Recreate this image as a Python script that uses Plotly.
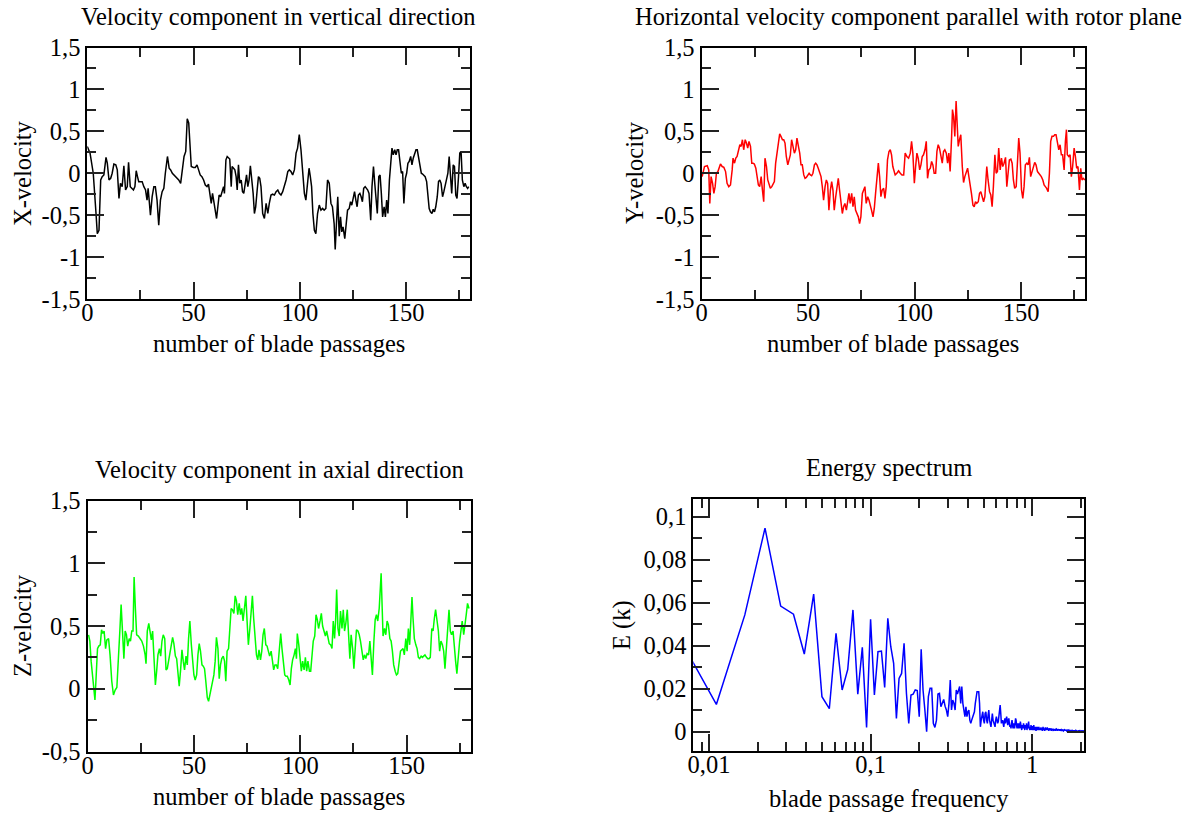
import plotly.graph_objects as go

# ---------------- data ----------------
vx_pass = [0, 1.3, 2.8, 3.6, 4.1, 4.7, 5.5, 6.3, 7.0, 7.8,
           8.8, 9.4, 10.2, 11.0, 11.7, 12.5, 13.4, 14.1, 14.9, 15.6,
           16.4, 17.2, 18.0, 18.8, 19.4, 20.2, 21.0, 21.7, 22.4, 23.0,
           23.6, 24.2, 25.0, 25.8, 26.6, 27.4, 28.1, 28.6, 29.1, 29.7,
           30.5, 31.3, 32.0, 32.8, 33.6, 34.4, 35.2, 36.0, 36.7, 37.7,
           38.5, 39.2, 40.0, 40.8, 41.9, 43.0, 43.9, 44.7, 45.5, 46.3,
           47.0, 47.7, 48.3, 48.9, 49.9, 50.8, 51.6, 52.4, 53.1, 53.9,
           54.7, 55.5, 56.3, 57.0, 57.7, 58.3, 58.9, 59.5, 60.2, 60.8,
           61.4, 62.0, 62.7, 63.3, 64.1, 64.5, 65.2, 65.8, 66.4, 67.0,
           67.7, 68.1, 68.8, 69.4, 70.0, 70.5, 71.1, 71.7, 72.4, 73.0,
           73.6, 74.2, 74.9, 75.5, 76.1, 76.7, 77.4, 78.0, 78.6, 79.2,
           79.9, 80.5, 81.1, 81.7, 82.5, 83.3, 84.1, 84.9, 85.6, 86.4,
           87.2, 88.0, 88.8, 89.6, 90.3,
           91.1, 91.9, 92.7, 93.5, 94.3, 95.0, 95.8, 96.6, 97.4, 98.2,
           98.9, 99.7, 100.5, 101.3, 102.1, 102.8, 103.6, 104.3, 104.9, 105.5,
           106.1, 106.8, 107.5, 108.3, 109.1, 109.9, 110.7, 111.4, 112.2, 113.0,
           113.8, 114.6, 115.3, 116.1, 116.6, 117.2, 117.8, 118.5, 119.1, 119.7,
           120.3, 121.1, 121.8, 122.4, 123.2, 123.8, 124.4, 125.0, 125.7, 126.3,
           126.9, 127.5, 128.2, 128.8, 129.4, 130.0, 130.7, 131.3, 131.9, 132.5,
           133.3, 133.9, 134.6, 135.2, 135.8, 136.4, 137.1, 137.7, 138.3, 138.9,
           139.6, 140.2, 140.8, 141.4, 142.1, 142.7, 143.3, 143.9, 144.6, 145.2,
           145.8, 146.4, 147.1, 147.7, 148.3, 148.9, 149.6, 150.2, 150.8, 151.4,
           152.1, 152.7, 153.3, 153.9, 154.6, 155.2, 155.8, 156.4, 157.1, 157.7,
           158.3, 158.9, 159.6, 160.2, 160.8, 161.4, 162.1, 162.7, 163.3, 163.9,
           164.6, 165.2, 165.8, 166.4, 167.1, 167.7, 168.3, 168.9, 169.6, 170.2,
           170.8, 171.4, 172.1, 172.7, 173.3, 173.9, 174.6, 175.2, 175.8, 176.4,
           177.1, 177.7, 178.3, 178.9, 179.4]
vx_vel = [0.32, 0.24, 0.00, -0.24, -0.48, -0.72, -0.68, -0.08, -0.04, -0.02,
          0.19, 0.12, -0.08, -0.06, 0.00, 0.11, 0.10, 0.04, -0.30, -0.12,
          -0.16, 0.09, -0.20, -0.16, 0.13, -0.16, -0.18, -0.20, -0.16, 0.03,
          -0.04, -0.10, -0.10, -0.10, -0.16, -0.20, -0.32, -0.18, -0.32, -0.50,
          -0.28, -0.16, -0.16, -0.32, -0.62, -0.32, -0.22, -0.18, 0.00, 0.20,
          0.06, 0.04, 0.00, -0.02, -0.05, -0.08, -0.12, 0.04, 0.20, 0.26,
          0.65, 0.60, 0.28, 0.08, 0.07, 0.07, 0.10, 0.02, -0.02, -0.04,
          -0.08, -0.14, -0.16, -0.13, -0.24, -0.36, -0.24, -0.32, -0.44, -0.54,
          -0.40, -0.26, -0.28, -0.22, -0.16, -0.24, 0.16, 0.20, 0.19, 0.17,
          -0.16, 0.08, 0.06, 0.04, -0.04, -0.20, 0.10, -0.12, -0.08, -0.22,
          -0.24, -0.12, -0.02, -0.16, -0.08, 0.09, -0.08, -0.24, -0.48, -0.40,
          -0.20, -0.04, -0.06, -0.16, -0.48, -0.54, -0.36, -0.48, -0.36, -0.26,
          -0.25, -0.26, -0.22, -0.20, -0.24,
          -0.26, -0.22, -0.16, -0.08, 0.02, 0.04, 0.02, -0.02, 0.04, 0.24,
          0.30, 0.46, 0.28, 0.00, -0.24, -0.32, -0.08, 0.06, -0.04, -0.16,
          -0.48, -0.68, -0.72, -0.48, -0.38, -0.44, -0.42, -0.44, -0.42, -0.08,
          -0.12, -0.36, -0.40, -0.60, -0.91, -0.56, -0.28, -0.75, -0.52, -0.70,
          -0.64, -0.78, -0.56, -0.44, -0.42, -0.34, -0.38, -0.30, -0.22, -0.32,
          -0.40, -0.26, -0.24, -0.28, -0.34, -0.18, -0.16, -0.18, -0.20, -0.24,
          -0.56, -0.16, 0.08, -0.12, -0.36, -0.48, -0.04, -0.02, -0.24, -0.52,
          -0.40, -0.52, -0.32, -0.48, -0.08, 0.16, 0.30, 0.22, 0.28, 0.22,
          0.28, 0.28, 0.12, 0.00, 0.02, -0.36, -0.06, 0.00, 0.12, 0.14,
          0.20, 0.10, 0.18, 0.24, 0.28, 0.28, 0.20, 0.08, 0.00, -0.01,
          -0.02, -0.04, -0.10, -0.28, -0.42, -0.46, -0.48, -0.43, -0.46, -0.40,
          -0.28, -0.10, -0.08, -0.12, -0.28, -0.22, -0.16, -0.08, 0.00, 0.20,
          -0.08, -0.24, 0.10, 0.08, -0.26, -0.30, -0.04, 0.24, 0.26, -0.08,
          -0.16, -0.12, -0.16, -0.18, -0.16]

vy_pass = [0.3, 1.4, 2.7, 3.4, 3.9, 4.5, 5.2, 5.8, 6.4, 7.0,
           7.7, 8.3, 8.9, 9.7, 10.5, 11.3, 12.0, 12.8, 13.6, 14.4,
           14.8, 15.5, 16.1, 16.7, 17.3, 18.0, 18.6, 19.2, 19.8, 20.5,
           21.1, 21.7, 22.3, 23.0, 23.6, 24.2, 24.8, 25.5, 26.1, 26.7,
           27.3, 28.0, 28.6, 29.2, 29.8, 30.5, 31.1, 31.7, 32.3, 33.0,
           33.6, 34.2, 34.8, 35.5, 36.1, 36.7, 37.3, 38.0, 38.6, 39.2,
           39.8, 40.5, 41.1, 41.7, 42.3, 43.0, 43.6, 44.2, 44.8, 45.5,
           46.1, 46.7, 47.3, 48.0, 48.6, 49.2, 49.8, 50.5, 51.1, 51.7,
           52.3, 53.0, 53.6, 54.2, 54.8, 55.5, 56.1, 56.7, 57.3, 58.0,
           58.6, 59.2, 59.8, 60.5, 61.1, 61.7, 62.3, 63.0, 63.6, 64.2,
           64.8, 65.5, 66.1, 66.7, 67.3, 68.0, 68.6, 69.2, 69.8, 70.5,
           71.1, 71.7, 72.3, 73.0, 73.6, 74.2, 74.8, 75.5, 76.1, 76.7,
           77.3, 78.0, 78.6, 79.2, 79.8, 80.5, 81.1, 81.7, 82.3, 83.0,
           83.6, 84.2, 84.8, 85.5, 86.1, 86.7, 87.3, 88.0, 88.6, 89.2,
           89.8,
           90.2, 90.9, 91.7, 92.5, 93.3, 94.1, 94.9, 95.6, 96.4, 97.2,
           98.0, 98.6, 99.2, 99.9, 100.5, 101.1, 101.7, 102.4, 103.0, 103.6,
           104.2, 104.9, 105.5, 106.1, 106.7, 107.4, 108.0, 108.6, 109.2, 109.9,
           110.5, 111.1, 111.7, 112.4, 113.0, 113.6, 114.2, 114.9, 115.5, 116.1,
           116.7, 117.4, 117.8, 118.3, 118.9, 119.5, 120.0, 120.5, 121.1, 121.7,
           122.4, 123.0, 123.6, 124.2, 124.9, 125.5, 126.1, 126.7, 127.4, 128.0,
           128.6, 129.2, 129.9, 130.5, 131.1, 131.7, 132.4, 133.0, 133.6, 133.9,
           134.5, 135.2, 135.8, 136.4, 137.0, 137.7, 138.3, 138.9, 139.5, 140.2,
           140.8, 141.4, 142.0, 142.7, 143.3, 143.9, 144.5, 145.2, 145.8, 146.4,
           147.0, 147.7, 148.3, 148.9, 149.5, 150.2, 150.8, 151.4, 152.0, 152.7,
           153.3, 153.9, 154.5, 155.2, 155.8, 156.4, 157.0, 157.7, 158.3, 158.9,
           159.5, 160.2, 160.8, 161.4, 162.0, 162.7, 163.3, 163.9, 164.5, 165.2,
           165.8, 166.4, 167.0, 167.7, 168.3, 168.9, 169.5, 170.2, 170.8, 171.3,
           171.7, 172.4, 173.0, 173.6, 174.2, 174.9, 175.5, 176.1, 176.7, 177.4,
           178.0, 178.6, 179.2, 180.0]
vy_vel = [-0.04, 0.08, 0.09, 0.04, -0.36, -0.04, -0.12, -0.24, -0.16, 0.00,
          0.02, 0.08, 0.11, 0.08, 0.07, 0.02, -0.12, -0.16, -0.14, 0.04,
          0.18, 0.12, 0.18, 0.20, 0.28, 0.34, 0.32, 0.40, 0.28, 0.40,
          0.36, 0.30, 0.38, 0.32, 0.12, 0.12, 0.11, 0.06, -0.04, -0.14,
          -0.16, -0.04, -0.20, -0.34, 0.18, 0.08, -0.08, -0.12, -0.18, -0.16,
          -0.12, -0.10, 0.12, 0.24, 0.36, 0.47, 0.44, 0.40, 0.40, 0.36,
          0.20, 0.10, 0.16, 0.22, 0.40, 0.32, 0.24, 0.28, 0.42, 0.32,
          0.24, 0.10, 0.10, -0.02, -0.06, -0.05, -0.02, 0.00, -0.02, -0.03,
          0.00, 0.10, 0.12, 0.10, 0.06, 0.00, -0.04, -0.16, -0.32, -0.16,
          -0.08, -0.12, -0.44, -0.20, -0.10, -0.20, -0.44, -0.28, -0.16, -0.06,
          -0.20, -0.36, -0.48, -0.40, -0.36, -0.44, -0.36, -0.24, -0.36, -0.24,
          -0.40, -0.28, -0.44, -0.48, -0.52, -0.60, -0.52, -0.24, -0.20, -0.16,
          -0.36, -0.28, -0.32, -0.40, -0.44, -0.52, -0.42, -0.24, -0.08, 0.12,
          -0.04, -0.28, -0.20, -0.18, -0.30, -0.16, 0.16, 0.26, 0.28, 0.22,
          0.08,
          0.04, -0.02, 0.00, 0.03, 0.00, -0.02, -0.02, 0.24, 0.20, 0.18,
          0.24, 0.38, 0.24, -0.12, 0.08, 0.24, 0.18, 0.04, 0.10, 0.20,
          0.22, 0.28, 0.38, -0.06, 0.04, 0.06, 0.14, 0.10, 0.00, 0.00,
          0.26, 0.34, 0.30, 0.22, 0.12, 0.26, 0.28, 0.24, 0.12, 0.24,
          0.02, 0.44, 0.76, 0.68, 0.44, 0.86, 0.56, 0.32, 0.40, 0.46,
          0.08, -0.11, -0.04, 0.02, 0.06, -0.04, -0.12, -0.24, -0.38, -0.40,
          -0.34, -0.36, -0.34, -0.24, -0.22, -0.28, -0.34, -0.28, -0.08, 0.08,
          -0.08, -0.22, -0.26, -0.40, -0.16, 0.22, 0.00, 0.02, 0.30, 0.04,
          0.18, 0.08, 0.12, 0.19, -0.16, 0.06, 0.16, 0.17, 0.12, -0.08,
          -0.18, -0.16, 0.12, 0.42, 0.24, -0.20, -0.30, -0.16, 0.10, 0.12,
          0.10, 0.19, -0.04, 0.02, 0.08, 0.13, 0.10, 0.02, 0.00, -0.02,
          -0.04, -0.08, -0.14, -0.16, -0.18, -0.22, 0.00, 0.38, 0.44, 0.44,
          0.46, 0.46, 0.36, 0.28, 0.34, 0.22, 0.22, 0.04, 0.38, 0.52,
          0.22, 0.20, 0.22, -0.04, 0.08, 0.30, 0.20, 0.06, 0.08, -0.20,
          0.06, -0.08, -0.06, -0.08]

vz_pass = [0.5, 1.1, 1.7, 2.4, 3.0, 3.5, 4.1, 4.7, 5.3, 6.0,
           6.6, 7.2, 7.8, 8.5, 9.1, 9.9, 10.6, 11.4, 12.2, 13.0,
           13.8, 14.6, 15.2, 15.8, 16.4, 17.1, 17.7, 18.3, 18.9, 19.6,
           20.2, 20.8, 21.4, 21.9, 22.5, 23.1, 23.9, 24.7, 25.5, 26.3,
           27.1, 27.5, 28.1, 28.8, 29.4, 30.0, 30.6, 31.3, 31.9, 32.5,
           33.1, 33.8, 34.4, 35.0, 35.6, 36.3, 36.9, 37.5, 38.1, 38.8,
           39.4, 40.0, 40.6, 41.3, 41.9, 42.5, 43.1, 43.8, 44.4, 45.0,
           45.6, 46.3, 46.9, 47.5, 48.1, 48.8, 49.4, 50.0, 50.6, 51.3,
           51.9, 52.5, 53.1, 53.8, 54.4, 55.0, 55.6, 56.3, 56.9, 57.5,
           58.1, 58.8, 59.4, 60.0, 60.6, 61.3, 61.9, 62.5, 63.1, 63.8,
           64.4, 65.0, 65.6, 66.3, 66.9, 67.5, 68.1, 68.8, 69.4, 70.0,
           70.6, 71.3, 71.9, 72.5, 73.1, 73.8, 74.4, 75.0, 75.6, 76.3,
           76.9, 77.5, 78.1, 78.8, 79.4, 80.0, 80.6, 81.3, 81.9, 82.5,
           83.1, 83.8, 84.4, 85.0, 85.6, 86.3, 86.9, 87.5, 88.1, 88.8,
           89.4, 90.0,
           90.8, 91.4, 92.1, 92.7, 93.3, 93.9, 94.6, 95.2,
           95.8, 96.4, 97.1, 97.7, 98.2, 98.6, 99.3, 99.9, 100.5, 101.1,
           101.8, 102.4, 103.0, 103.6, 104.3, 104.9, 105.5, 106.1, 106.8, 107.4,
           108.0, 108.6, 109.3, 109.9, 110.5, 111.1, 111.8, 112.4, 113.0, 113.6,
           114.3, 114.9, 115.5, 116.1, 116.6, 117.1, 117.7, 118.3, 118.9, 119.6,
           120.2, 120.8, 121.4, 122.1, 122.7, 123.3, 123.9, 124.6, 125.2, 125.8,
           126.4, 127.1, 127.7, 128.3, 128.9, 129.6, 130.2, 130.8, 131.4, 132.1,
           132.7, 133.3, 133.9, 134.6, 135.2, 135.8, 136.4, 137.1, 137.5, 138.0,
           138.5, 138.9, 139.6, 140.2, 140.8, 141.4, 142.1, 142.7, 143.3, 143.9,
           144.6, 145.2, 145.8, 146.4, 147.1, 147.7, 148.3, 148.9, 149.6, 150.2,
           150.8, 151.4, 152.1, 152.5, 153.0, 153.6, 154.3, 154.9, 155.5, 156.1,
           156.8, 157.4, 158.0, 158.6, 159.3, 159.9, 160.5, 161.1, 161.8, 162.4,
           163.0, 163.6, 164.3, 164.9, 165.5, 166.1, 166.8, 167.4, 168.0, 168.6,
           169.3, 169.9, 170.5, 171.1, 171.8, 172.4, 173.0, 173.6, 174.3, 174.9,
           175.5, 176.1, 176.8, 177.4, 178.0, 178.6, 179.3]
vz_vel = [0.43, 0.38, 0.22, 0.08, -0.02, -0.09, 0.11, 0.32, 0.34, 0.35,
          0.47, 0.44, 0.46, 0.32, 0.39, 0.40, 0.27, 0.06, -0.05, -0.01,
          0.01, 0.22, 0.46, 0.67, 0.46, 0.24, 0.46, 0.43, 0.34, 0.40,
          0.38, 0.46, 0.46, 0.89, 0.64, 0.43, 0.42, 0.40, 0.38, 0.34,
          0.27, 0.20, 0.46, 0.52, 0.44, 0.39, 0.46, 0.16, 0.03, 0.14,
          0.27, 0.32, 0.26, 0.38, 0.43, 0.40, 0.15, 0.16, 0.22, 0.27,
          0.35, 0.41, 0.36, 0.26, 0.24, 0.11, 0.02, 0.16, 0.31, 0.22,
          0.15, 0.26, 0.19, 0.40, 0.54, 0.35, 0.20, 0.11, 0.07, 0.11,
          0.27, 0.36, 0.30, 0.19, 0.18, 0.16, 0.06, -0.07, -0.10, -0.05,
          -0.02, 0.06, 0.11, 0.22, 0.41, 0.32, 0.08, 0.19, 0.24, 0.26,
          0.22, 0.06, 0.30, 0.32, 0.46, 0.64, 0.63, 0.60, 0.74, 0.70,
          0.59, 0.68, 0.59, 0.64, 0.54, 0.64, 0.74, 0.54, 0.35, 0.48,
          0.64, 0.74, 0.56, 0.40, 0.27, 0.23, 0.31, 0.23, 0.30, 0.43,
          0.48, 0.35, 0.34, 0.30, 0.26, 0.30, 0.24, 0.15, 0.19, 0.19,
          0.16, 0.32,
          0.44, 0.32, 0.19, 0.11, 0.10, 0.10, 0.07, 0.03,
          0.16, 0.23, 0.27, 0.32, 0.24, 0.44, 0.35, 0.26, 0.14, 0.22,
          0.15, 0.25, 0.14, 0.22, 0.14, 0.14, 0.27, 0.38, 0.42, 0.59,
          0.55, 0.48, 0.54, 0.60, 0.50, 0.47, 0.42, 0.46, 0.39, 0.36,
          0.35, 0.32, 0.54, 0.40, 0.54, 0.79, 0.48, 0.42, 0.62, 0.48,
          0.63, 0.46, 0.52, 0.63, 0.43, 0.24, 0.43, 0.32, 0.16, 0.32,
          0.47, 0.46, 0.43, 0.38, 0.30, 0.23, 0.27, 0.24, 0.28, 0.27,
          0.38, 0.27, 0.11, 0.38, 0.55, 0.59, 0.54, 0.64, 0.78, 0.92,
          0.64, 0.42, 0.48, 0.43, 0.54, 0.51, 0.40, 0.38, 0.30, 0.19,
          0.14, 0.11, 0.12, 0.19, 0.30, 0.31, 0.32, 0.27, 0.40, 0.30,
          0.48, 0.35, 0.59, 0.73, 0.56, 0.40, 0.35, 0.32, 0.25, 0.24,
          0.26, 0.25, 0.26, 0.27, 0.25, 0.24, 0.24, 0.25, 0.48, 0.46,
          0.56, 0.63, 0.54, 0.46, 0.30, 0.38, 0.35, 0.30, 0.16, 0.30,
          0.54, 0.63, 0.46, 0.43, 0.46, 0.30, 0.22, 0.12, 0.30, 0.38,
          0.46, 0.54, 0.43, 0.54, 0.59, 0.68, 0.64]

# energy spectrum: one value per frequency bin k/180 (k = 1, 2, ...)
n_passages = 180
energy = [0.0535, 0.0127, 0.0543, 0.0946, 0.0584, 0.0546, 0.0361, 0.0640, 0.0163, 0.0107,
          0.0457, 0.0194, 0.0290, 0.0566, 0.0175, 0.0392, 0.0020, 0.0522, 0.0171, 0.0372,
          0.0375, 0.0206, 0.0527, 0.0395, 0.0318, 0.0062, 0.0248, 0.0271, 0.0411, 0.0178,
          0.0039, 0.0171, 0.0175, 0.0194, 0.0191, 0.0070, 0.0383, 0.0194, 0.0101, 0.0000,
          0.0163, 0.0202, 0.0202, 0.0039, 0.0020, 0.0054, 0.0175, 0.0178, 0.0116, 0.0132,
          0.0150, 0.0119, 0.0101, 0.0070, 0.0132, 0.0240, 0.0101, 0.0147, 0.0132, 0.0101,
          0.0194, 0.0175, 0.0194, 0.0210, 0.0132, 0.0210, 0.0132, 0.0085, 0.0070, 0.0116,
          0.0070, 0.0093, 0.0101, 0.0054, 0.0039, 0.0054, 0.0070, 0.0082, 0.0093, 0.0132,
          0.0178, 0.0186, 0.0186, 0.0186, 0.0132, 0.0023, 0.0054, 0.0070, 0.0093, 0.0054,
          0.0039, 0.0085, 0.0093, 0.0054, 0.0039, 0.0078, 0.0101, 0.0054, 0.0039, 0.0023,
          0.0054, 0.0085, 0.0054, 0.0039, 0.0031, 0.0023, 0.0054, 0.0070, 0.0054, 0.0039,
          0.0047, 0.0070, 0.0093, 0.0124, 0.0085, 0.0039, 0.0047, 0.0054, 0.0031, 0.0023,
          0.0047, 0.0062, 0.0039, 0.0054, 0.0070, 0.0054, 0.0031, 0.0047, 0.0062, 0.0039,
          0.0023, 0.0031, 0.0016, 0.0039, 0.0054, 0.0031, 0.0016, 0.0039, 0.0023, 0.0016,
          0.0039, 0.0062, 0.0054, 0.0031, 0.0016, 0.0039, 0.0031, 0.0016, 0.0039, 0.0023,
          0.0016, 0.0047, 0.0031, 0.0023, 0.0008, 0.0031, 0.0023, 0.0016, 0.0039, 0.0023,
          0.0016, 0.0008, 0.0031, 0.0023, 0.0016, 0.0039, 0.0008, 0.0023, 0.0016, 0.0031,
          0.0047, 0.0023, 0.0016, 0.0008, 0.0023, 0.0016, 0.0031, 0.0008, 0.0016, 0.0023,
          0.0023, 0.0008, 0.0016, 0.0031, 0.0008, 0.0016, 0.0023, 0.0008, 0.0016, 0.0004,
          0.0023, 0.0016, 0.0008, 0.0023, 0.0012, 0.0008, 0.0016, 0.0023, 0.0008, 0.0012,
          0.0016, 0.0008, 0.0012, 0.0020, 0.0008, 0.0016, 0.0012, 0.0004, 0.0016, 0.0023,
          0.0012, 0.0008, 0.0016, 0.0012, 0.0004, 0.0012, 0.0020, 0.0008, 0.0012, 0.0016,
          0.0008, 0.0012, 0.0020, 0.0012, 0.0008, 0.0016, 0.0012, 0.0004, 0.0012, 0.0016,
          0.0008, 0.0012, 0.0016, 0.0008, 0.0012, 0.0004, 0.0012, 0.0016, 0.0008, 0.0012,
          0.0008, 0.0012, 0.0004, 0.0010, 0.0014, 0.0006, 0.0010, 0.0008, 0.0012, 0.0004,
          0.0010, 0.0014, 0.0008, 0.0006, 0.0012, 0.0008, 0.0010, 0.0004, 0.0012, 0.0008,
          0.0006, 0.0010, 0.0012, 0.0006, 0.0008, 0.0010, 0.0004, 0.0008, 0.0012, 0.0006,
          0.0008, 0.0010, 0.0006, 0.0008, 0.0004, 0.0010, 0.0008, 0.0006, 0.0010, 0.0008,
          0.0004, 0.0008, 0.0010, 0.0006, 0.0008, 0.0006, 0.0010, 0.0004, 0.0008, 0.0006,
          0.0008, 0.0010, 0.0006, 0.0004, 0.0008, 0.0006, 0.0008, 0.0010, 0.0004, 0.0006,
          0.0006, 0.0004, 0.0008, 0.0005, 0.0006, 0.0004, 0.0007, 0.0005, 0.0006, 0.0004,
          0.0005, 0.0007, 0.0004, 0.0006, 0.0005, 0.0004, 0.0006, 0.0005, 0.0003, 0.0006,
          0.0005, 0.0004, 0.0006, 0.0005, 0.0004, 0.0005, 0.0006, 0.0004, 0.0005, 0.0003,
          0.0005, 0.0004, 0.0006, 0.0004, 0.0005, 0.0003, 0.0005, 0.0004, 0.0005, 0.0004,
          0.0003, 0.0005, 0.0004, 0.0005, 0.0003, 0.0004, 0.0005, 0.0004, 0.0003, 0.0004,
          0.0005, 0.0003, 0.0004, 0.0004, 0.0003, 0.0005, 0.0004, 0.0003, 0.0004, 0.0003,
          0.0004, 0.0003, 0.0004, 0.0003, 0.0004, 0.0003, 0.0003, 0.0004, 0.0003, 0.0003,
          0.0004, 0.0003, 0.0003, 0.0004, 0.0003, 0.0003, 0.0003, 0.0004, 0.0003, 0.0003]
freq = [k / n_passages for k in range(1, len(energy) + 1)]

# tick labels (decimal comma)
pass_ticks = [0, 50, 100, 150]
pass_minor = [25, 75, 125, 175]
vel_ticks = [-1.5, -1, -0.5, 0, 0.5, 1, 1.5]
vel_labels = ["-1,5", "-1", "-0,5", "0", "0,5", "1", "1,5"]
vel_minor = [-1.25, -0.75, -0.25, 0.25, 0.75, 1.25]
vz_ticks = [-0.5, 0, 0.5, 1, 1.5]
vz_labels = ["-0,5", "0", "0,5", "1", "1,5"]
vz_minor = [-0.25, 0.25, 0.75, 1.25]
e_ticks = [0, 0.02, 0.04, 0.06, 0.08, 0.1]
e_labels = ["0", "0,02", "0,04", "0,06", "0,08", "0,1"]
e_minor = [0.01, 0.03, 0.05, 0.07, 0.09]
f_ticks = [0.01, 0.1, 1]
f_labels = ["0,01", "0,1", "1"]
f_minor = [0.008, 0.009, 0.02, 0.03, 0.04, 0.05, 0.06, 0.07, 0.08, 0.09,
           0.2, 0.3, 0.4, 0.5, 0.6, 0.7, 0.8, 0.9, 2]

# ---------------- figure ----------------
W, H = 1185, 814
FONT = "Liberation Serif, Times New Roman, serif"
FS = 24.5


def fx(p):
    return p / W


def fy(p):
    return 1 - p / H


def axis_style(tickvals, ticktext, minor_vals, standoff, **kw):
    d = dict(
        tickmode="array", tickvals=tickvals, ticktext=ticktext,
        ticks="inside", ticklen=17, tickwidth=1.5, tickcolor="#222",
        minor=dict(tickmode="array", tickvals=minor_vals, ticks="inside",
                   ticklen=9, tickwidth=1.5, tickcolor="#222", showgrid=False),
        showline=True, linecolor="black", linewidth=2, mirror="ticks",
        showgrid=False, zeroline=False, automargin=False,
        tickfont=dict(family=FONT, size=FS, color="black"),
        ticklabelstandoff=standoff,
    )
    d.update(kw)
    return d


fig = go.Figure()
fig.add_trace(go.Scatter(x=vx_pass, y=vx_vel, mode="lines",
                         line=dict(color="black", width=1.5), xaxis="x", yaxis="y"))
fig.add_trace(go.Scatter(x=vy_pass, y=vy_vel, mode="lines",
                         line=dict(color="#ff0000", width=1.5), xaxis="x2", yaxis="y2"))
fig.add_trace(go.Scatter(x=vz_pass, y=vz_vel, mode="lines",
                         line=dict(color="#00ff00", width=1.5), xaxis="x3", yaxis="y3"))
fig.add_trace(go.Scatter(x=freq, y=energy, mode="lines",
                         line=dict(color="#0000ff", width=1.5), xaxis="x4", yaxis="y4"))

XS, YS = -9, 0
top = [fy(299), fy(47.5)]
bot = [fy(751.5), fy(500.5)]
fig.update_layout(
    width=W, height=H, autosize=False, margin=dict(l=0, r=0, t=0, b=0, pad=0),
    paper_bgcolor="white", plot_bgcolor="white", showlegend=False,
    xaxis=axis_style(pass_ticks, [str(v) for v in pass_ticks], pass_minor, XS,
                     domain=[fx(87.3), fx(470)], range=[0, 180], anchor="y"),
    yaxis=axis_style(vel_ticks, vel_labels, vel_minor, YS,
                     domain=top, range=[-1.5, 1.5], anchor="x"),
    xaxis2=axis_style(pass_ticks, [str(v) for v in pass_ticks], pass_minor, XS,
                      domain=[fx(701.5), fx(1085)], range=[0, 180], anchor="y2"),
    yaxis2=axis_style(vel_ticks, vel_labels, vel_minor, YS,
                      domain=top, range=[-1.5, 1.5], anchor="x2"),
    xaxis3=axis_style(pass_ticks, [str(v) for v in pass_ticks], pass_minor, XS,
                      domain=[fx(87.5), fx(470.5)], range=[0, 180], anchor="y3"),
    yaxis3=axis_style(vz_ticks, vz_labels, vz_minor, YS,
                      domain=bot, range=[-0.5, 1.5], anchor="x3"),
    xaxis4=axis_style(f_ticks, f_labels, f_minor, XS, type="log",
                      domain=[fx(693.3), fx(1084.3)],
                      range=[-2.0969, 0.3222], anchor="y4"),
    yaxis4=axis_style(e_ticks, e_labels, e_minor, YS,
                      domain=[fy(750.7), fy(499.3)], range=[-0.0088, 0.108], anchor="x4"),
)

ann = []


def text(s, x, y, angle=0, xanchor="center"):
    ann.append(dict(text=s, x=fx(x), y=fy(y), xref="paper", yref="paper",
                    showarrow=False, xanchor=xanchor, yanchor="middle",
                    textangle=angle, font=dict(family=FONT, size=FS, color="black")))


# panel titles
text("Velocity component in vertical direction", 278.7, 17)
text("Horizontal velocity component parallel with rotor plane", 1184, 17, xanchor="right")
text("Velocity component in axial direction", 279, 469)
text("Energy spectrum", 889, 467)
# x-axis titles
text("number of blade passages", 279, 344)
text("number of blade passages", 893, 344)
text("number of blade passages", 279, 796)
text("blade passage frequency", 889, 798)
# y-axis titles
text("X-velocity", 22, 173, angle=-90)
text("Y-velocity", 634, 173, angle=-90)
text("Z-velocity", 22, 626, angle=-90)
text("E (k)", 622, 625, angle=-90)

fig.update_layout(annotations=ann)
fig.write_html("out.html")
